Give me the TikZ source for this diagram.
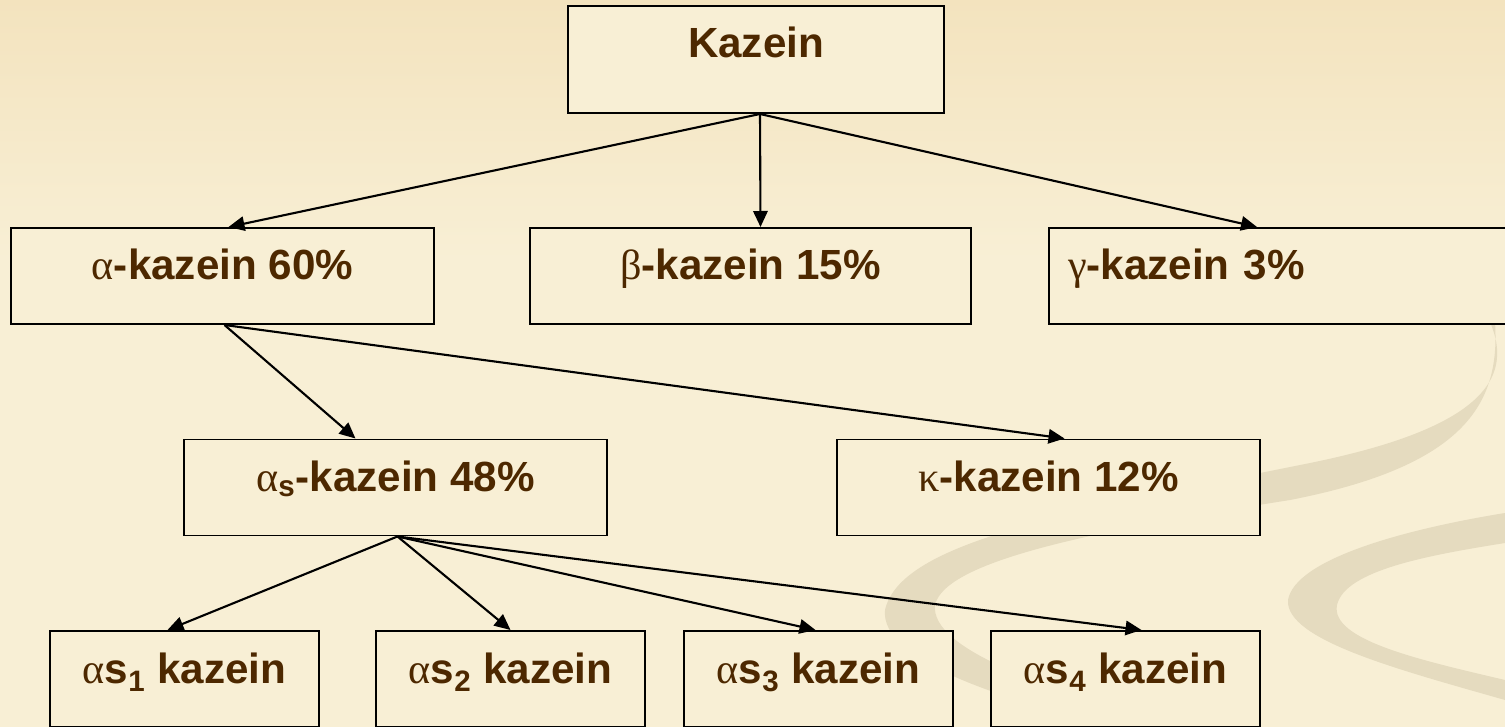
\documentclass[tikz,border=0pt]{standalone}
\usepackage{fontspec}
\setmainfont{Liberation Sans}
\newfontfamily\grkfont{Liberation Serif}
\usetikzlibrary{arrows.meta,calc}

\definecolor{bgcream}{RGB}{248,239,213}
\definecolor{bgtop}{RGB}{243,227,190}
\definecolor{swoosh}{RGB}{229,219,191}
\definecolor{kbrown}{RGB}{77,40,0}

\newcommand{\gk}[1]{{\grkfont\mdseries #1}}

\begin{document}
\begin{tikzpicture}[
        x=0.025cm, y=-0.025cm,
        box/.style={draw, line width=1.4pt, fill=bgcream, text=kbrown,
            font=\fontsize{30}{36}\selectfont\bfseries,
            inner xsep=0pt, inner ysep=0pt, minimum width=10.575cm,
            text height=1.3cm, text depth=1.1cm},
        arrow/.style={->, >={Triangle[length=0.4cm, width=0.36cm]}, line width=1.5pt}
    ]
        % === background ===
        \useasboundingbox (0,0) rectangle (1505,727);
        \clip (0,0) rectangle (1505,727);
        \fill[bgcream] (0,0) rectangle (1505,727);
        \shade[top color=bgtop, bottom color=bgcream] (0,0) rectangle (1505,260);
        \fill[swoosh] (1490,322) .. controls (1515,380) and (1480,430) .. (1300,465)
            .. controls (1050,515) and (900,545) .. (885,610)
            .. controls (880,660) and (1000,700) .. (1120,727)
            -- (1180,727) .. controls (1050,690) and (930,650) .. (935,605)
            .. controls (945,560) and (1100,530) .. (1290,500)
            .. controls (1470,465) and (1500,400) .. (1495,322) -- cycle;
        \fill[swoosh] (1505,513) .. controls (1400,530) and (1295,560) .. (1288,600)
            .. controls (1285,640) and (1400,670) .. (1505,700)
            -- (1505,680) .. controls (1420,660) and (1330,640) .. (1337,605)
            .. controls (1345,570) and (1430,555) .. (1505,543) -- cycle;

        % === level 0 ===
        \node[box, minimum width=9.4cm, text depth=1.375cm] (kazein) at (756,59.5) {Kazein};

        % === level 1 ===
        \node[box] (a60) at (222.5,276) {\gk{α}-kazein 60\%};
        \node[box, minimum width=11.025cm] (b15) at (750.5,276) {\gk{β}-kazein 15\%};
        \node[box, anchor=west, inner xsep=0.475cm, text width=13cm, align=left] (g3) at (1048,276) {\gk{γ}-kazein 3\%};

        \draw[arrow] ($(kazein.south)+(4,0)$) -- ($(a60.north)+(6,0)$);
        \draw[arrow] ($(kazein.south)+(4,0)$) -- ($(b15.north)+(10,0)$);
        \draw[arrow] ($(kazein.south)+(4,0)$) -- ($(g3.north west)+(209,0)$);

        % === level 2 ===
        \node[box] (as48) at (395.5,487.5) {\gk{α}\textsubscript{s}-kazein 48\%};
        \node[box] (k12) at (1048.5,487.5) {\gk{κ}-kazein 12\%};

        \draw[arrow] ($(a60.south)+(2,0)$) -- ($(as48.north)+(-40,0)$);
        \draw[arrow] ($(a60.south)+(2,0)$) -- ($(k12.north)+(16,0)$);

        % === level 3 ===
        \node[box, minimum width=6.725cm] (as1) at (184.5,679) {\gk{α}s\textsubscript{1} kazein};
        \node[box, minimum width=6.725cm] (as2) at (510.5,679) {\gk{α}s\textsubscript{2} kazein};
        \node[box, minimum width=6.725cm] (as3) at (818.5,679) {\gk{α}s\textsubscript{3} kazein};
        \node[box, minimum width=6.725cm] (as4) at (1125.5,679) {\gk{α}s\textsubscript{4} kazein};

        \draw[arrow] ($(as48.south)+(2,0)$) -- ($(as1.north)+(-17,0)$);
        \draw[arrow] ($(as48.south)+(2,0)$) -- (as2.north);
        \draw[arrow] ($(as48.south)+(2,0)$) -- ($(as3.north)+(-3,0)$);
        \draw[arrow] ($(as48.south)+(2,0)$) -- ($(as4.north)+(16,0)$);
    \end{tikzpicture}
\end{document}
